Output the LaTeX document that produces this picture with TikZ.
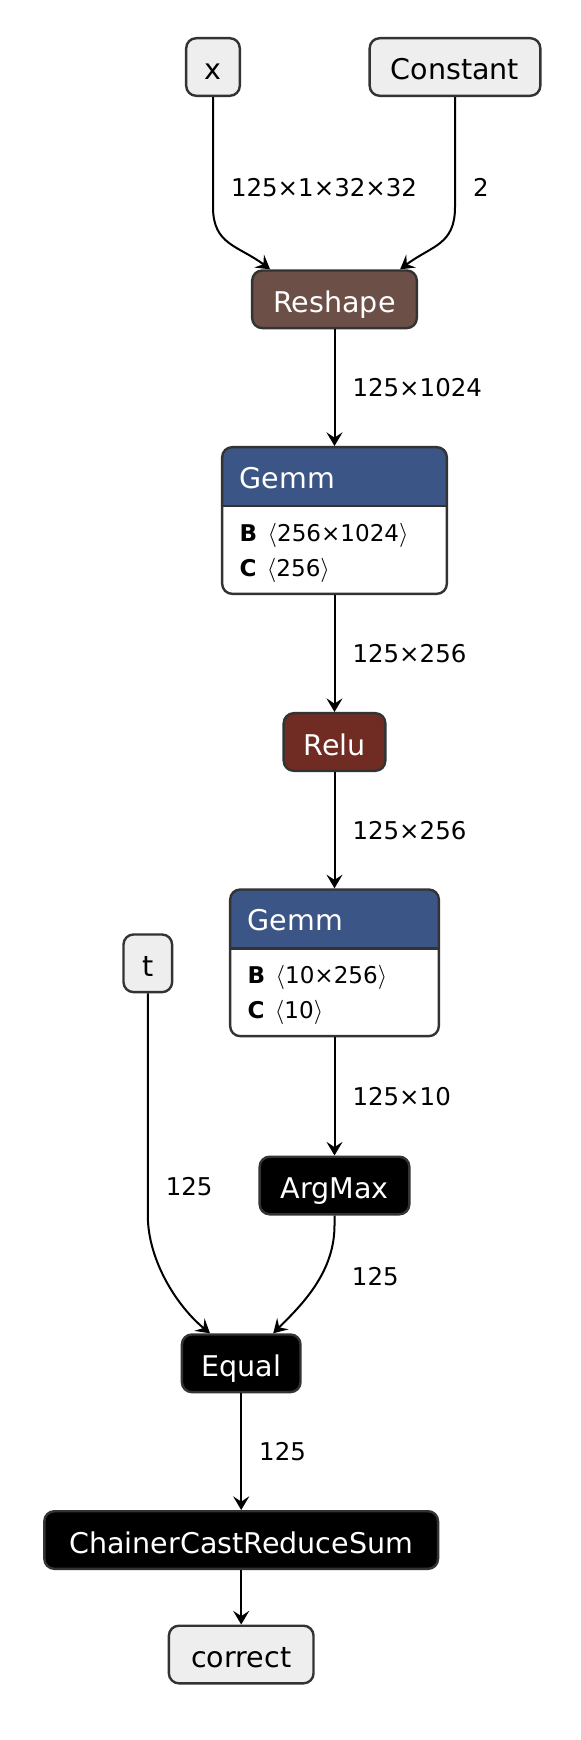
\documentclass[tikz,border=0pt]{standalone}
\usepackage{fontspec}
\setmainfont{DejaVu Sans}
\usepackage{tikz}
\usetikzlibrary{arrows.meta,positioning}
\definecolor{cInput}{RGB}{238,238,238}
\definecolor{cBorder}{RGB}{51,51,51}
\definecolor{cShape}{RGB}{108,79,71}
\definecolor{cLayer}{RGB}{59,85,134}
\definecolor{cAct}{RGB}{112,43,34}
\newcommand{\opfont}{\fontsize{20.3}{24}\selectfont}
\newcommand{\lblfont}{\fontsize{17.4}{21}\selectfont}
\newcommand{\attrfont}{\fontsize{16.4}{20}\selectfont}
\newcommand{\shp}[1]{$\langle$#1$\rangle$}

\begin{document}
\begin{tikzpicture}[
    x=0.025cm, y=-0.025cm,
    nodebox/.style={rectangle,draw=cBorder,line width=0.6mm,rounded corners=2.5mm,minimum height=14.4mm,
      inner sep=0pt,text height=8mm,text depth=1.5mm,font=\opfont},
    io/.style={nodebox,fill=cInput,text=black},
    op/.style={nodebox,fill=black,text=white},
    gemm/.style={nodebox,fill=white,minimum height=36.65mm,
      path picture={\fill[cLayer,sharp corners] (path picture bounding box.north west) rectangle ([yshift=-14.75mm]path picture bounding box.north east);
        \draw[cBorder,line width=0.6mm,sharp corners] ([yshift=-14.75mm]path picture bounding box.north west) -- ([yshift=-14.75mm]path picture bounding box.north east);}},
    gemmname/.style={anchor=base west,inner sep=0pt,text=white,font=\opfont},
    attr/.style={anchor=base west,inner sep=0pt,font=\attrfont},
    lbl/.style={anchor=west,inner sep=0pt,font=\lblfont},
    flow/.style={->,line width=0.5mm},
    >={Stealth[length=3.4mm,width=4mm,inset=1.3mm]}
  ]
  \useasboundingbox (0,0) rectangle (580,1740);

  \node[io,minimum width=13.4mm] (x) at (213,67) {x};
  \node[io,minimum width=42.65mm] (constant) at (455,67) {Constant};
  \node[op,fill=cShape,minimum width=41.15mm] (reshape) at (334.5,299.3) {Reshape};

  \node[gemm,minimum width=56.15mm] (gemmA) at (334.5,520.5) {};
  \node[gemmname] (gemmAname) at ([xshift=4.6mm,yshift=-10.6mm]gemmA.north west) {Gemm};
  \node[attr] (gemmAb) at ([xshift=4.6mm,yshift=-23.75mm]gemmA.north west) {\textbf{B}\hspace{2.6mm}\shp{256×1024}};
  \node[attr] (gemmAc) at ([xshift=4.6mm,yshift=-32.65mm]gemmA.north west) {\textbf{C}\hspace{2.6mm}\shp{256}};

  \node[op,fill=cAct,minimum width=25.4mm] (relu) at (334.5,742) {Relu};

  \node[gemm,minimum width=52.15mm] (gemmB) at (334.5,962.8) {};
  \node[gemmname] (gemmBname) at ([xshift=4.6mm,yshift=-10.6mm]gemmB.north west) {Gemm};
  \node[attr] (gemmBb) at ([xshift=4.6mm,yshift=-23.75mm]gemmB.north west) {\textbf{B}\hspace{2.6mm}\shp{10×256}};
  \node[attr] (gemmBc) at ([xshift=4.6mm,yshift=-32.65mm]gemmB.north west) {\textbf{C}\hspace{2.6mm}\shp{10}};

  \node[io,minimum width=12.15mm] (t) at (147.8,963.3) {t};
  \node[op,minimum width=37.4mm] (argmax) at (334.5,1185.5) {ArgMax};
  \node[op,minimum width=29.65mm] (equal) at (241.2,1363.3) {Equal};
  \node[op,minimum width=98.4mm] (ccrs) at (241.2,1540) {ChainerCastReduceSum};
  \node[io,minimum width=36.15mm] (correct) at (241.2,1654.5) {correct};

  \draw[flow] (x.south) -- node[lbl,pos=0.82,xshift=4.25mm] (shapeX) {125×1×32×32} ++(0,110)
    .. controls +(0,38) and +(-32,-24) .. ([xshift=-16.1mm]reshape.north);
  \draw[flow] (constant.south) -- node[lbl,pos=0.82,xshift=4.25mm] (shapeK) {2} ++(0,110)
    .. controls +(0,38) and +(32,-24) .. ([xshift=16.4mm]reshape.north);
  \draw[flow] (reshape) -- node[lbl,xshift=4.25mm] (shapeR) {125×1024} (gemmA);
  \draw[flow] (gemmA) -- node[lbl,xshift=4.25mm] (shapeA) {125×256} (relu);
  \draw[flow] (relu) -- node[lbl,xshift=4.25mm] (shapeU) {125×256} (gemmB);
  \draw[flow] (gemmB) -- node[lbl,xshift=4.25mm] (shapeB) {125×10} (argmax);
  \draw[flow] (t.south) -- node[lbl,pos=0.87,xshift=4.25mm] (shapeT) {125} ++(0,222)
    .. controls +(0,45) and +(-33,-27) .. ([xshift=-7.8mm]equal.north);
  \draw[flow] (argmax.south) -- ++(0,10)
    .. controls +(0,48) and +(27,-27) .. ([xshift=8mm]equal.north);
  \node[lbl] (shapeM) at (351.7,1277) {125};
  \draw[flow] (equal) -- node[lbl,xshift=4.25mm] (shapeE) {125} (ccrs);
  \draw[flow] (ccrs) -- (correct);
\end{tikzpicture}
\end{document}
